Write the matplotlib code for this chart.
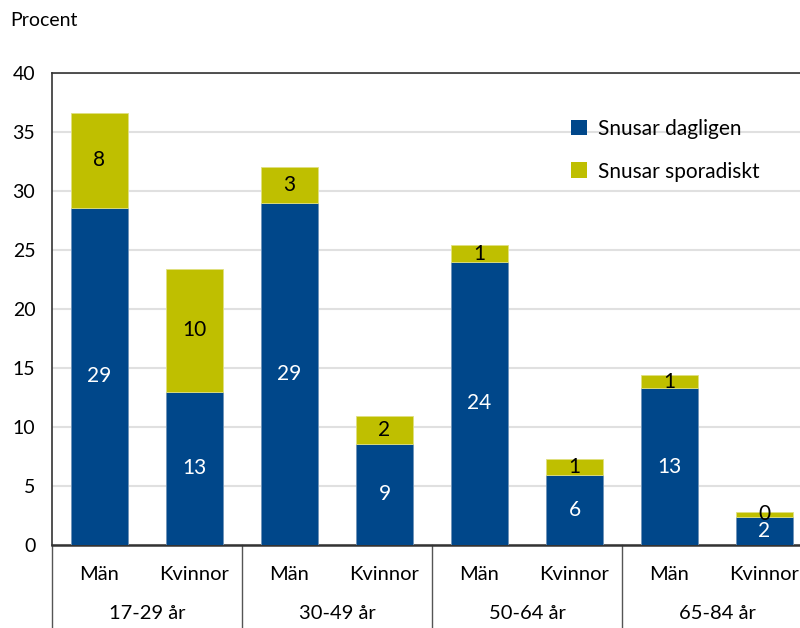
import numpy as np
import matplotlib.pyplot as plt
from matplotlib.patches import Patch
import matplotlib.transforms as mtransforms

plt.rcParams['font.family'] = ['Lato', 'DejaVu Sans']

# Data
groups = ['17-29 år', '30-49 år', '50-64 år', '65-84 år']
sexes = ['Män', 'Kvinnor']
dagligen = [28.6, 13.0, 29.0, 8.6, 24.0, 5.9, 13.3, 2.4]
sporadiskt = [8.0, 10.4, 3.0, 2.3, 1.4, 1.4, 1.1, 0.4]

blue = '#00478A'
yellow = '#BFBF00'

fig = plt.figure(figsize=(8, 6.28), dpi=100)
ax = fig.add_axes([52 / 800, 83 / 628, 760 / 800, 472 / 628])

x = np.arange(len(dagligen))
ax.bar(x, dagligen, width=0.6, color=blue, edgecolor='#6f93b8', linewidth=0.6, zorder=3)
ax.bar(x, sporadiskt, width=0.6, bottom=dagligen, color=yellow, edgecolor='#e0e080', linewidth=0.6, zorder=3)

# Värdeetiketter
for i in range(len(x)):
    d = dagligen[i]
    s = sporadiskt[i]
    ax.text(x[i], d / 2, f'{round(d)}', ha='center', va='center', color='white', fontsize=15, zorder=4)
    ax.text(x[i], d + s / 2, f'{round(s)}', ha='center', va='center', color='black', fontsize=15, zorder=4)

ax.set_xlim(-0.5, len(x) - 0.5)
ax.set_ylim(0, 40)
ax.set_yticks(range(0, 41, 5))
ax.tick_params(axis='y', length=0, labelsize=14, pad=12)
ax.set_xticks([])
ax.grid(axis='y', color='#e0e0e0', linewidth=1.5, zorder=0)
for side in ['left', 'top', 'right', 'bottom']:
    ax.spines[side].set_color('#333333')
ax.spines['left'].set_linewidth(1.2)
ax.spines['top'].set_linewidth(1.2)
ax.spines['bottom'].set_linewidth(1.8)

# Kategoriaxel i två nivåer
trans = mtransforms.blended_transform_factory(ax.transData, ax.transAxes)
for i in range(len(x)):
    ax.text(x[i], -0.062, sexes[i % 2], transform=trans, ha='center', va='center', fontsize=14.5)
for g, name in enumerate(groups):
    ax.text(2 * g + 0.5, -0.145, name, transform=trans, ha='center', va='center', fontsize=14.5)
for g in range(len(groups) + 1):
    ax.plot([2 * g - 0.5, 2 * g - 0.5], [0, -0.2], transform=trans, color='#555555',
            linewidth=1, clip_on=False)

fig.text(10 / 800, 1 - 20 / 628, 'Procent', ha='left', va='center', fontsize=14)

handles = [Patch(facecolor=blue, label='Snusar dagligen'),
           Patch(facecolor=yellow, label='Snusar sporadiskt')]
fig.legend(handles=handles, loc='upper left', bbox_to_anchor=(552 / 800, 1 - 100 / 628),
           frameon=False, fontsize=15, handlelength=0.8, handleheight=0.8,
           handletextpad=0.5, labelspacing=1.1)

fig.savefig('out.png', dpi=100)
